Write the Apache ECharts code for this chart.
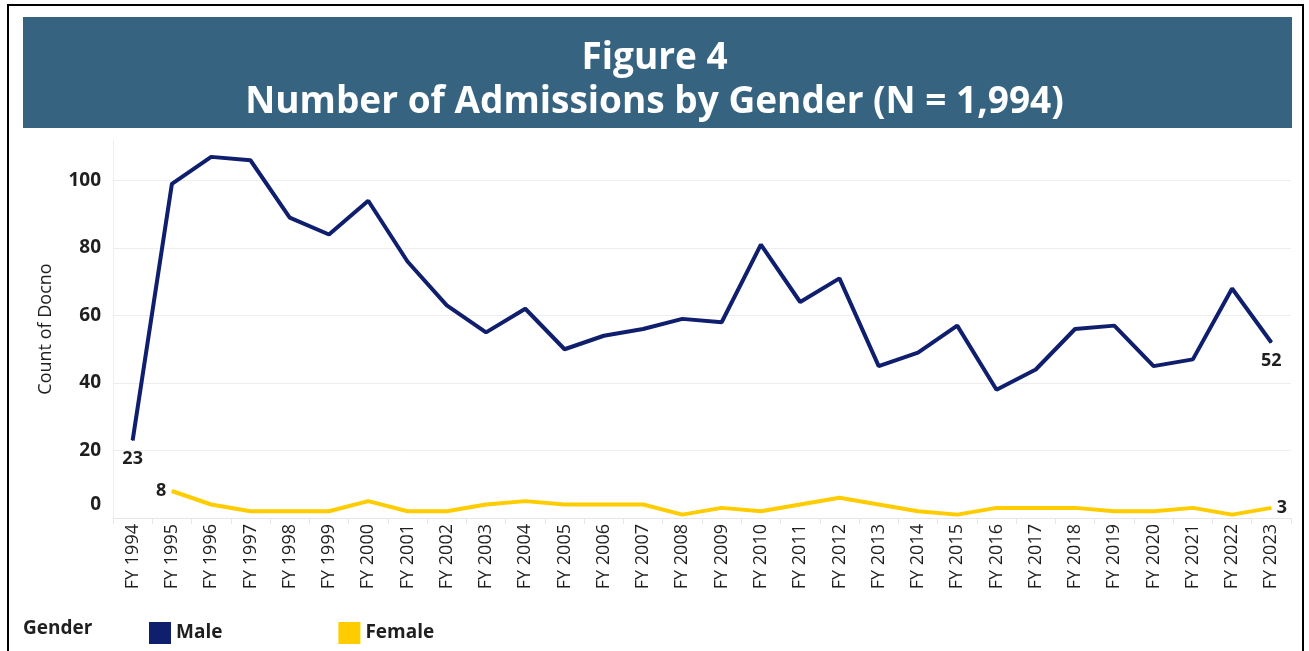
<!DOCTYPE html>
<html>
<head>
<meta charset="utf-8">
<title>Figure 4</title>
<script src="https://cdn.jsdelivr.net/npm/echarts@6/dist/echarts.min.js"></script>
<style>
    html, body {margin: 0; padding: 0; background: #fff;}
    #main {width: 1309px; height: 651px;}
</style>
</head>
<body>
<div id="main"></div>
<script>
    // 年份
    var years = ['FY 1994', 'FY 1995', 'FY 1996', 'FY 1997', 'FY 1998', 'FY 1999', 'FY 2000', 'FY 2001',
        'FY 2002', 'FY 2003', 'FY 2004', 'FY 2005', 'FY 2006', 'FY 2007', 'FY 2008', 'FY 2009', 'FY 2010',
        'FY 2011', 'FY 2012', 'FY 2013', 'FY 2014', 'FY 2015', 'FY 2016', 'FY 2017', 'FY 2018', 'FY 2019',
        'FY 2020', 'FY 2021', 'FY 2022', 'FY 2023'];
    // 男
    var male = [23, 99, 107, 106, 89, 84, 94, 76, 63, 55, 62, 50, 54, 56, 59, 58, 81, 64, 71, 45, 49, 57,
        38, 44, 56, 57, 45, 47, 68, 52];
    // 女 (FY 1994 无数据)
    var female = [null, 8, 4, 2, 2, 2, 5, 2, 2, 4, 5, 4, 4, 4, 1, 3, 2, 4, 6, 4, 2, 1, 3, 3, 3, 2, 2, 3, 1, 3];
    var yTicks = [0, 20, 40, 60, 80, 100];
    var yMax = 112;

    var font = "'Open Sans', sans-serif";
    var dark = '#1f1f1f';
    var maleColor = '#0f1f6e';
    var femaleColor = '#ffcc00';

    // 只在首尾两个点显示数值
    function withEndLabels(data, firstPos, lastPos, dist) {
        var first = data.findIndex(function (v) { return v !== null; });
        var last = data.length - 1;
        return data.map(function (v, i) {
            if (i !== first && i !== last) return v;
            return {
                value: v,
                label: {
                    show: true,
                    position: i === first ? firstPos : lastPos,
                    distance: dist,
                    color: dark,
                    fontFamily: font,
                    fontWeight: 'bold',
                    fontSize: 18
                }
            };
        });
    }

    var chart = echarts.init(document.getElementById('main'));
    chart.setOption({
        animation: false,
        title: {
            text: 'Figure 4\nNumber of Admissions by Gender (N = 1,994)',
            left: 'center',
            top: 31,
            z: 10,
            textStyle: {
                color: '#fff',
                fontFamily: font,
                fontWeight: 'bold',
                fontSize: 37,
                lineHeight: 44
            }
        },
        graphic: [
            {type: 'rect', shape: {x: 8, y: 5, width: 1295, height: 670}, style: {fill: 'none', stroke: '#000', lineWidth: 2}},
            {type: 'rect', shape: {x: 23, y: 17, width: 1269, height: 111}, style: {fill: '#36637f'}},
            {type: 'text', left: 23, top: 619, style: {text: 'Gender', fill: dark, font: "bold 19px 'Open Sans', sans-serif"}}
        ],
        legend: {
            left: 144,
            top: 617,
            icon: 'rect',
            itemWidth: 22,
            itemHeight: 22,
            itemGap: 116,
            textStyle: {color: dark, fontFamily: font, fontWeight: 'bold', fontSize: 19},
            data: ['Male', 'Female']
        },
        grid: {left: 113, top: 518 - yMax * 3.375, width: 1178, height: yMax * 3.375, containLabel: false},
        xAxis: {
            type: 'category',
            data: years,
            boundaryGap: true,
            axisLine: {lineStyle: {color: '#e6e6e6'}},
            axisTick: {show: true, length: 6, lineStyle: {color: '#e6e6e6'}},
            axisLabel: {rotate: 90, interval: 0, margin: 6, color: dark, fontFamily: font, fontSize: 18}
        },
        yAxis: {
            type: 'value',
            min: 0,
            max: yMax,
            interval: 20,
            name: 'Count of Docno',
            nameLocation: 'middle',
            nameGap: 58,
            nameTextStyle: {color: dark, fontFamily: font, fontSize: 18},
            axisLine: {show: true, lineStyle: {color: '#eeeeee'}},
            axisTick: {show: false},
            splitLine: {show: true, lineStyle: {color: ['#e6e6e6', '#eeeeee', '#eeeeee', '#eeeeee', '#eeeeee', '#eeeeee', 'rgba(0,0,0,0)']}},
            axisLabel: {
                margin: 12,
                color: dark,
                fontFamily: font,
                fontWeight: 'bold',
                fontSize: 19,
                formatter: function (v) {
                    if (yTicks.indexOf(v) < 0) return '';
                    return v === 0 ? '{z|0}' : String(v);
                },
                rich: {z: {color: dark, fontFamily: font, fontWeight: 'bold', fontSize: 19, padding: [0, 0, 26, 0]}}
            }
        },
        series: [
            {
                name: 'Male',
                type: 'line',
                data: withEndLabels(male, 'bottom', 'bottom', 9),
                color: maleColor,
                symbol: 'circle',
                symbolSize: 1,
                lineStyle: {width: 4, color: maleColor}
            },
            {
                name: 'Female',
                type: 'line',
                data: withEndLabels(female, 'left', 'right', 5),
                color: femaleColor,
                symbol: 'circle',
                symbolSize: 1,
                lineStyle: {width: 4, color: femaleColor}
            }
        ]
    });
</script>
</body>
</html>
